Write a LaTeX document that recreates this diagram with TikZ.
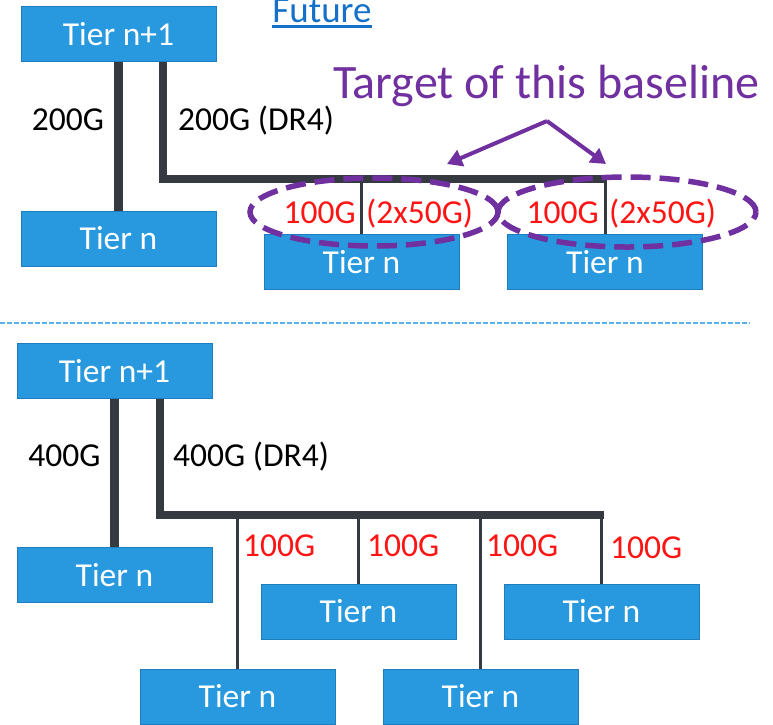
\documentclass[tikz,border=0pt]{standalone}
\usepackage{fontspec}
\setmainfont{Carlito}
\usetikzlibrary{arrows.meta,shapes.geometric}
\definecolor{tierblue}{RGB}{40,153,222}
\definecolor{tieredge}{RGB}{30,125,190}
\definecolor{wire}{RGB}{52,58,64}
\definecolor{ratered}{RGB}{255,20,20}
\definecolor{tgtpurple}{RGB}{112,48,160}
\definecolor{linkblue}{RGB}{20,112,200}
\definecolor{splitblue}{RGB}{90,176,238}
\tikzset{
  tier/.style={draw=tieredge, line width=0.8pt, fill=tierblue, text=white, minimum width=195pt, minimum height=55pt, inner sep=0pt, font=\fontsize{33.5}{36}\selectfont},
  link/.style={draw=wire, line width=8.5pt},
  drop/.style={draw=wire, line width=3pt},
  lbl/.style={inner sep=0pt, font=\fontsize{33.5}{36}\selectfont},
  rate/.style={lbl, text=ratered},
  target/.style={draw=tgtpurple, ellipse, line width=5.5pt, dash pattern=on 20pt off 9pt, inner sep=0pt},
  pointer/.style={draw=tgtpurple, line width=4pt, -{Triangle[length=15pt,width=17pt]}},
  splitline/.style={draw=splitblue, line width=1.2pt, dash pattern=on 5pt off 2pt},
}
\begin{document}
\begin{tikzpicture}[x=1pt, y=-1pt]
    \useasboundingbox (0,0) rectangle (773,724);
    % future (upper half)
    \node[lbl, text=linkblue, font=\fontsize{37}{40}\selectfont, anchor=base] (future) at (322,22.5) {Future};
    \draw[linkblue, line width=2.5pt] ([yshift=-4pt]future.base west) -- ([yshift=-4pt]future.base east);
    \node[tier] (upa) at (118.5,34) {Tier n+1};
    \node[tier] (loa) at (118.5,238.5) {Tier n};
    \node[tier] (loa2) at (361.5,262) {Tier n};
    \node[tier] (loa3) at (605,262) {Tier n};
    \coordinate (busa) at (163,179);
    \coordinate (busaend) at (606.5,179);
    \draw[link] (upa.south) -- (loa.north);
    \draw[link] (upa.south -| busa) -- (busa) -- (busaend);
    \draw[drop] (loa2.north |- busa) -- (loa2.north);
    \draw[drop] (loa3.north |- busa) -- (loa3.north);
    \node[lbl, anchor=base] (rda) at (68,130) {200G};
    \node[lbl, anchor=base west] (rdb) at (178,130) {200G (DR4)};
    \node[rate, anchor=base east] (sa2) at (356,223) {100G};
    \node[rate, anchor=base west] (sb2) at (366,223) {(2x50G)};
    \node[rate, anchor=base east] (sa3) at (599,223) {100G};
    \node[rate, anchor=base west] (sb3) at (609,223) {(2x50G)};
    % baseline target
    \node[target, minimum width=248pt, minimum height=68pt] (tgta) at (374,212) {};
    \node[target, minimum width=258pt, minimum height=70pt] (tgtb) at (627,212) {};
    \node[lbl, text=tgtpurple, font=\fontsize{48}{50}\selectfont, anchor=base west] (tgtlbl) at (333,98) {Target of this baseline};
    \coordinate (apex) at (547,121);
    \coordinate (tipa) at (447,164);
    \coordinate (tipb) at (606,164);
    \draw[pointer] (apex) -- (tipa);
    \draw[pointer] (apex) -- (tipb);
    % divider
    \draw[splitline] (0,323) -- (750,323);
    % today (lower half)
    \node[tier] (upb) at (114.5,371) {Tier n+1};
    \node[tier] (lob) at (114.5,575) {Tier n};
    \node[tier] (lob2) at (237.5,696.5) {Tier n};
    \node[tier] (lob3) at (358.5,611.5) {Tier n};
    \node[tier] (lob4) at (480.5,696.5) {Tier n};
    \node[tier] (lob5) at (601.5,611.5) {Tier n};
    \coordinate (busb) at (160,515);
    \coordinate (busbend) at (603.5,515);
    \draw[link] (upb.south) -- (lob.north);
    \draw[link] (upb.south -| busb) -- (busb) -- (busbend);
    \foreach \n in {lob2,lob3,lob4,lob5}
        \draw[drop] (\n.north |- busb) -- (\n.north);
    \node[lbl, anchor=base] (rdc) at (64.5,466) {400G};
    \node[lbl, anchor=base west] (rdd) at (173,466) {400G (DR4)};
    \node[rate, anchor=base west] (sc2) at (243,556) {100G};
    \node[rate, anchor=base west] (sc3) at (367,556) {100G};
    \node[rate, anchor=base west] (sc4) at (486,556) {100G};
    \node[rate, anchor=base west] (sc5) at (610,558) {100G};
\end{tikzpicture}
\end{document}
